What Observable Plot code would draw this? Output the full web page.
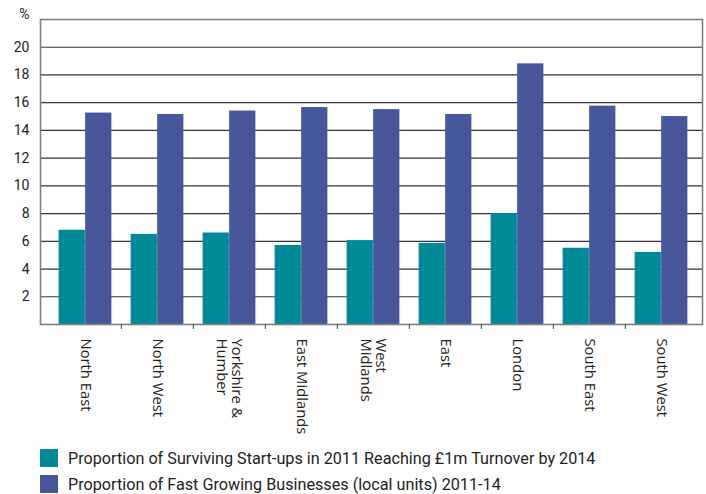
<!DOCTYPE html>
<html>
<head>
<meta charset="utf-8">
<script src="https://cdn.jsdelivr.net/npm/d3@7"></script>
<script src="https://cdn.jsdelivr.net/npm/@observablehq/plot@0.6"></script>
<style>
  html, body { margin: 0; padding: 0; background: #fff; }
  #chart { width: 706px; }
  .legend { font-family: Roboto, "Noto Sans", sans-serif; font-size: 16.2px; color: #222; padding: 7px 0 0 40px; }
  .legend .row { display: flex; align-items: center; height: 26px; }
  .legend .sw { width: 18px; height: 18px; margin-right: 10px; flex: none; }
</style>
</head>
<body>
<div id="chart"></div>
<script>
const regions = ["North East", "North West", "Yorkshire &\nHumber", "East Midlands", "West\nMidlands", "East", "London", "South East", "South West"];
const startups = [6.8, 6.5, 6.6, 5.7, 6.05, 5.85, 8.0, 5.5, 5.2];
const fastGrowing = [15.25, 15.15, 15.4, 15.65, 15.5, 15.15, 18.8, 15.75, 15.0];
const seriesNames = [
  "Proportion of Surviving Start-ups in 2011 Reaching £1m Turnover by 2014",
  "Proportion of Fast Growing Businesses (local units) 2011-14"
];
const colors = ["#008a98", "#47579b"];
const yTicks = [2, 4, 6, 8, 10, 12, 14, 16, 18, 20];
const yMax = 22;
const yUnit = ["%"];

// layout constants
const W = 706, H = 438, mL = 40, mR = 4, mT = 19, mB = 114;
const padOuter = 0.0813;
const step = (W - mL - mR) / (regions.length + 2 * padOuter);
const barW = 26.5;
const outerInset = (step - 2 * barW) / 2;

const rows = regions.map((r, i) => ({region: r, startups: startups[i], fast: fastGrowing[i]}));

const font = "'Open Sans', sans-serif";
const numFont = "Roboto, sans-serif";

const plot = Plot.plot({
  width: W,
  height: H,
  marginLeft: mL,
  marginRight: mR,
  marginTop: mT,
  marginBottom: mB,
  style: {fontFamily: font, background: "#fff", color: "#222"},
  x: {domain: regions, paddingInner: 0, paddingOuter: padOuter, align: 0.64, axis: null},
  y: {domain: [0, yMax], axis: null},
  marks: [
    Plot.ruleY(yTicks, {stroke: "#333", strokeWidth: 1.2}),
    Plot.barY(rows, {x: "region", y: "startups", fill: colors[0], insetLeft: outerInset, insetRight: step - outerInset - barW}),
    Plot.barY(rows, {x: "region", y: "fast", fill: colors[1], insetLeft: outerInset + barW, insetRight: outerInset}),
    Plot.frame({stroke: "#7f7f7f", strokeWidth: 1.6}),
    Plot.axisX({ticks: regions.slice(1), tickSize: 5, tickFormat: () => "", dx: -step / 2, stroke: "#444", label: null}),
    Plot.axisX({tickSize: 0, tickRotate: 90, tickPadding: 14, fontSize: 14.8, label: null, fill: "#222"}),
    Plot.axisY({ticks: yTicks, tickSize: 0, tickPadding: 11, fontSize: 14, label: null, fill: "#222", fontFamily: numFont}),
    Plot.text(yUnit, {frameAnchor: "top-left", dx: -11, dy: -5, textAnchor: "end", lineAnchor: "middle", fontSize: 14, fontFamily: numFont, fill: "#222"})
  ]
});

document.getElementById("chart").appendChild(plot);

const legend = d3.select("#chart").append("div").attr("class", "legend");
seriesNames.forEach((name, i) => {
  const row = legend.append("div").attr("class", "row");
  row.append("div").attr("class", "sw").style("background", colors[i]);
  row.append("span").text(name);
});
</script>
</body>
</html>
